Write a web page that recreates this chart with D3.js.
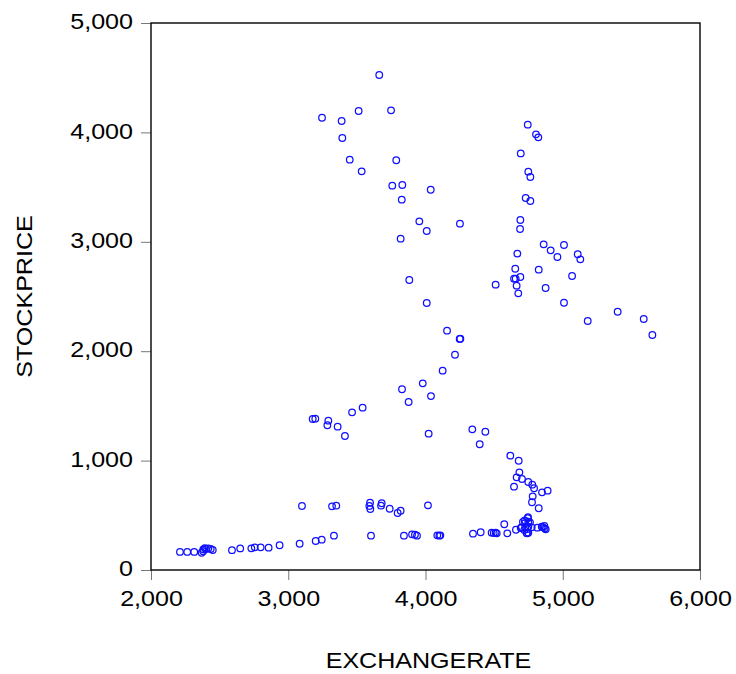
<!DOCTYPE html>
<html>
<head>
<meta charset="utf-8">
<script src="https://cdn.jsdelivr.net/npm/d3@7/dist/d3.min.js"></script>
<style>
  html, body { margin: 0; padding: 0; background: #fff; }
  svg { display: block; }
  text { font-family: "Liberation Sans", Arial, sans-serif; fill: #000; }
</style>
</head>
<body>
<svg id="chart" width="736" height="674"></svg>
<script>
// ---- data ----
const exchangeRate = [
  3663,3246,3389,3513,3749,3394,3448,3787,3535,3758,3831,4038,3827,3955,4009,3819,3882,4009,4125,3980,
  3829,4040,3877,3542,3465,3178,3197,3292,3285,3360,3413,4023,4157,4249,4254,4215,4251,4341,4436,4395,
  3100,3319,3350,3596,3591,3598,3676,3681,3739,3797,3819,4018,3333,3603,3843,3902,3923,3938,4086,4101,
  4108,4346,4402,4482,4497,4511,4519,4596,3244,3200,3083,2937,2857,2799,2756,2731,2650,2590,
  2211,2264,2315,2369,2381,2392,2401,2418,2435,2450,2380,
  4745,4805,4822,4694,4749,4764,4730,4764,4691,4689,4861,5009,4912,4961,5109,5128,4669,4654,4645,4657,
  4691,4825,5068,4664,4676,4875,4511,5009,5400,5590,5182,5653,
  4618,4679,4684,4664,4703,4749,4645,4778,4791,4890,4849,4781,4776,4825,4574,4747,4723,4710,4761,4745,
  4749,4725,4659,4694,4701,4720,4727,4742,4737,4749,4740,4749,4774,4815,4847,4856,4866,4869,4876
];
const stockPrice = [
  4525,4134,4104,4196,4202,3949,3751,3745,3644,3513,3519,3476,3385,3187,3099,3029,2651,2441,1822,1706,
  1652,1590,1536,1484,1441,1380,1383,1365,1323,1310,1225,1246,2188,2112,2114,1968,3166,1286,1264,1149,
  585,582,588,615,585,558,588,610,560,521,542,591,314,314,314,326,323,314,317,314,
  317,332,345,341,338,341,335,335,277,265,240,226,204,207,207,198,197,181,
  165,165,165,158,189,200,192,198,192,183,172,
  4071,3982,3955,3808,3641,3592,3400,3373,3199,3117,2977,2971,2922,2861,2886,2840,2892,2754,2663,2663,
  2678,2745,2687,2599,2529,2578,2608,2443,2361,2294,2276,2148,
  1045,999,893,847,832,804,762,780,747,725,710,673,619,564,418,482,454,439,436,473,
  442,427,368,384,390,366,390,375,338,341,335,396,390,387,396,390,402,381,372
];
const xTicks = [2000, 3000, 4000, 5000, 6000];
const yTicks = [0, 1000, 2000, 3000, 4000, 5000];
const xTitle = "EXCHANGERATE";
const yTitle = "STOCKPRICE";

// ---- layout ----
const plotL = 151, plotR = 700, plotT = 23, plotB = 570;
const stretch = 1.14;
const fontSize = 22;

const svg = d3.select("#chart");
const x = d3.scaleLinear().domain([2000, 6000]).range([plotL, plotR]);
const y = d3.scaleLinear().domain([0, 5000]).range([plotB, plotT]);
const fmt = d3.format(",");

// axes
const gx = svg.append("g").attr("transform", `translate(0,${plotB})`)
  .call(d3.axisBottom(x).tickValues(xTicks).tickFormat(fmt).tickSize(10).tickPadding(10));
const gy = svg.append("g").attr("transform", `translate(${plotL},0)`)
  .call(d3.axisLeft(y).tickValues(yTicks).tickFormat(fmt).tickSize(10).tickPadding(8));

[gx, gy].forEach(g => {
  g.select(".domain").remove();
  g.selectAll(".tick line").attr("stroke", "#777").attr("stroke-width", 1);
  g.selectAll(".tick text")
    .attr("font-size", fontSize)
    .attr("font-family", "Liberation Sans, Arial, sans-serif")
    .attr("fill", "#000");
});
gx.selectAll(".tick text").each(function() {
  const t = d3.select(this);
  const yy = +t.attr("y");
  t.attr("y", null).attr("transform", `translate(0,${yy}) scale(${stretch},1)`);
});
gy.selectAll(".tick text").each(function() {
  const t = d3.select(this);
  const xx = +t.attr("x");
  t.attr("x", null).attr("dy", "0.3em").attr("transform", `translate(${xx},-1) scale(${stretch},1)`);
});

// frame
svg.append("rect")
  .attr("x", plotL).attr("y", plotT)
  .attr("width", plotR - plotL).attr("height", plotB - plotT)
  .attr("fill", "none").attr("stroke", "#000").attr("stroke-width", 1.4);

// points
const pts = exchangeRate.map((v, i) => [v, stockPrice[i]]);
svg.append("g").selectAll("circle").data(pts).join("circle")
  .attr("cx", d => x(d[0])).attr("cy", d => y(d[1]))
  .attr("r", 3.3)
  .attr("fill", "none")
  .attr("stroke", "#1010ff")
  .attr("stroke-width", 1.25);

// titles
svg.append("text")
  .attr("transform", `translate(${(plotL + plotR) / 2 + 3},668) scale(${stretch},1)`)
  .attr("text-anchor", "middle").attr("font-size", fontSize).text(xTitle);
svg.append("text")
  .attr("transform", `translate(32,${(plotT + plotB) / 2}) rotate(-90) scale(${stretch},1)`)
  .attr("text-anchor", "middle").attr("font-size", fontSize).text(yTitle);
</script>
</body>
</html>
